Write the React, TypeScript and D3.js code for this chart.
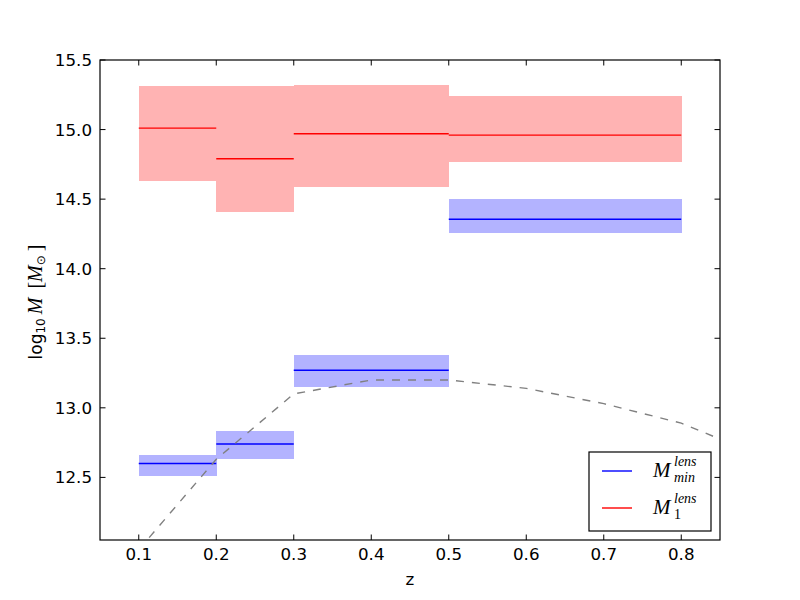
import React from "react";
import * as d3 from "d3";

// ---- data ----
const binLo = [0.1, 0.2, 0.3, 0.5];
const binHi = [0.2, 0.3, 0.5, 0.8];
const minMid = [12.6, 12.74, 13.27, 14.355];
const minLo = [12.51, 12.63, 13.15, 14.26];
const minHi = [12.66, 12.83, 13.38, 14.5];
const m1Mid = [15.01, 14.79, 14.97, 14.96];
const m1Lo = [14.63, 14.41, 14.59, 14.77];
const m1Hi = [15.31, 15.31, 15.32, 15.24];
const curveZ = [0.1, 0.2, 0.3, 0.4, 0.5, 0.6, 0.7, 0.8, 0.9];
const curveM = [11.98, 12.63, 13.1, 13.2, 13.2, 13.14, 13.03, 12.89, 12.66];
const xTicks = [0.1, 0.2, 0.3, 0.4, 0.5, 0.6, 0.7, 0.8];
const yTicks = [12.5, 13.0, 13.5, 14.0, 14.5, 15.0, 15.5];
const legendSubs = ["min", "1"];

const W = 800, H = 600;
const L = 100, R = 720, T = 60, B = 540;

export default function App() {
  const x = d3.scaleLinear().domain([0.05, 0.85]).range([L, R]);
  const y = d3.scaleLinear().domain([12.05, 15.5]).range([B, T]);
  const line = d3.line<number>().x((_, i) => x(curveZ[i])).y((d) => y(d));
  const tickLen = 5.5;
  const fmt = d3.format(".1f");
  const fs = 16.7;
  const serif = "'Liberation Serif', 'DejaVu Serif', serif";
  const sans = "'DejaVu Sans', sans-serif";

  const boxes = (lo: number[], hi: number[], fill: string) =>
    binLo.map((b, i) => (
      <rect
        key={i}
        x={x(b)}
        width={x(binHi[i]) - x(b) + 0.5}
        y={y(hi[i])}
        height={y(lo[i]) - y(hi[i])}
        fill={fill}
        shapeRendering="crispEdges"
      />
    ));
  const mids = (mid: number[], stroke: string) =>
    binLo.map((b, i) => (
      <line key={i} x1={x(b)} x2={x(binHi[i])} y1={y(mid[i])} y2={y(mid[i])} stroke={stroke} strokeWidth={1.4} />
    ));

  const legendColors = ["#0000ff", "#ff0000"];
  const legendY = [471, 508];

  return (
    <svg width={W} height={H} style={{ position: "absolute", left: 0, top: 0, background: "#fff" }}>
      <rect x={0} y={0} width={W} height={H} fill="#fff" />
      <defs>
        <clipPath id="plot">
          <rect x={L} y={T} width={R - L} height={B - T} />
        </clipPath>
      </defs>
      <g clipPath="url(#plot)">
        {boxes(m1Lo, m1Hi, "#ffb3b3")}
        {boxes(minLo, minHi, "#b3b3ff")}
        {mids(m1Mid, "#ff0000")}
        {mids(minMid, "#0000ff")}
        <path d={line(curveM) || ""} fill="none" stroke="#808080" strokeWidth={1.4} strokeDasharray="8,8" />
      </g>
      {/* ticks */}
      {xTicks.map((t) => (
        <g key={"x" + t}>
          <line x1={x(t)} x2={x(t)} y1={B} y2={B - tickLen} stroke="#000" strokeWidth={1} />
          <line x1={x(t)} x2={x(t)} y1={T} y2={T + tickLen} stroke="#000" strokeWidth={1} />
          <text x={x(t)} y={560} textAnchor="middle" fontFamily={sans} fontSize={fs}>
            {fmt(t)}
          </text>
        </g>
      ))}
      {yTicks.map((t) => (
        <g key={"y" + t}>
          <line x1={L} x2={L + tickLen} y1={y(t)} y2={y(t)} stroke="#000" strokeWidth={1} />
          <line x1={R} x2={R - tickLen} y1={y(t)} y2={y(t)} stroke="#000" strokeWidth={1} />
          <text x={92} y={y(t)} dy="0.36em" textAnchor="end" fontFamily={sans} fontSize={fs}>
            {fmt(t)}
          </text>
        </g>
      ))}
      <rect x={L} y={T} width={R - L} height={B - T} fill="none" stroke="#000" strokeWidth={1.2} />
      {/* axis labels */}
      <text x={(L + R) / 2} y={585} textAnchor="middle" fontFamily={sans} fontSize={fs}>
        z
      </text>
      <text transform="translate(42,302) rotate(-90)" textAnchor="middle" fontSize={18}>
        <tspan fontFamily={sans} fontSize={17}>log</tspan>
        <tspan fontFamily={sans} fontSize={12} dy={3}>{"10"}</tspan>
        <tspan fontFamily={serif} fontStyle="italic" fontSize={20} dy={-3}>{"\u2009M"}</tspan>
        <tspan fontFamily={serif} fontSize={20}>{" \u2009["}</tspan>
        <tspan fontFamily={serif} fontStyle="italic" fontSize={20}>M</tspan>
        <tspan fontFamily={"'DejaVu Sans', sans-serif"} fontSize={12} dy={3}>{"\u2299"}</tspan>
        <tspan fontFamily={serif} fontSize={20} dy={-3}>{"\u2009]"}</tspan>
      </text>
      {/* legend */}
      <rect x={589} y={452} width={122} height={79} fill="#fff" stroke="#000" strokeWidth={1.2} />
      {legendSubs.map((s, i) => (
        <g key={s}>
          <line x1={602} x2={632} y1={legendY[i]} y2={legendY[i]} stroke={legendColors[i]} strokeWidth={1.4} />
          <text x={653} y={legendY[i] + 6} fontFamily={serif} fontStyle="italic" fontSize={21}>
            M
          </text>
          <text x={674} y={legendY[i] - 5} fontFamily={serif} fontStyle="italic" fontSize={14}>
            lens
          </text>
          <text
            x={674}
            y={legendY[i] + 11}
            fontFamily={serif}
            fontStyle={s === "1" ? "normal" : "italic"}
            fontSize={14}
          >
            {s}
          </text>
        </g>
      ))}
    </svg>
  );
}
